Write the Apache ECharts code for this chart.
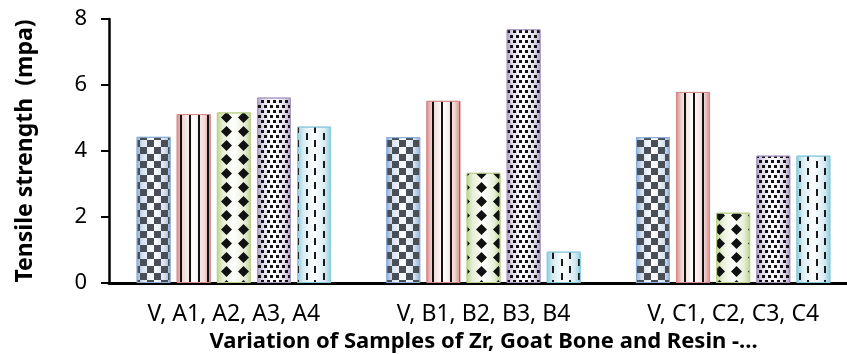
<!DOCTYPE html>
<html>
<head>
<meta charset="utf-8">
<script src="https://cdn.jsdelivr.net/npm/echarts@6/dist/echarts.min.js"></script>
<style>
	html, body { margin: 0; padding: 0; background: #fff; }
	#chart { width: 847px; height: 354px; }
</style>
</head>
<body>
<div id="chart"></div>
<script>
var categories = ['V, A1, A2, A3, A4', 'V, B1, B2, B3, B4', 'V, C1, C2, C3, C4'];
var seriesNames = ['V', 'Sample 1', 'Sample 2', 'Sample 3', 'Sample 4'];
var valuesV = [4.43, 4.42, 4.42];
var values1 = [5.12, 5.52, 5.79];
var values2 = [5.17, 3.34, 2.13];
var values3 = [5.62, 7.69, 3.86];
var values4 = [4.74, 0.95, 3.86];
var yTicks = { min: 0, max: 8, interval: 2 };

// excel-like shaded fill: tinted edges, pale centre
function shade(edge, mid) {
	return new echarts.graphic.LinearGradient(0, 0, 1, 0, [
		{ offset: 0, color: edge },
		{ offset: 0.18, color: mid },
		{ offset: 0.5, color: '#ffffff' },
		{ offset: 0.82, color: mid },
		{ offset: 1, color: edge }
	]);
}

var looks = [
	{ edge: '#8eafd6', mid: '#d6e2f1', decal: {
		symbol: 'rect', symbolSize: 1, color: '#4a4f57',
		dashArrayX: [[7, 7], [0, 7, 7, 0]], dashArrayY: [7, 0] } },
	{ edge: '#d78c8a', mid: '#f2d8d7', decal: {
		symbol: 'rect', symbolSize: 1, color: '#111111',
		dashArrayX: [1.5, 6.8], dashArrayY: [10, 0] } },
	{ edge: '#bcd290', mid: '#e7efd6', decal: {
		symbol: 'diamond', symbolSize: 1, color: '#111111',
		dashArrayX: [11, 6], dashArrayY: [11, 2.3] } },
	{ edge: '#ad9bc4', mid: '#e3dcea', decal: {
		symbol: 'rect', symbolSize: 1, color: '#111111',
		dashArrayX: [[3, 3], [0, 3, 3, 0]], dashArrayY: [3, 2] } },
	{ edge: '#8ccbdc', mid: '#d6ecf3', decal: {
		symbol: 'rect', symbolSize: 1, color: '#1a1a1a',
		dashArrayX: [[1.8, 14.2], [0, 8, 1.8, 6.2]], dashArrayY: [7, 0] } }
];
var allValues = [valuesV, values1, values2, values3, values4];

var series = allValues.map(function (vals, i) {
	return {
		name: seriesNames[i],
		type: 'bar',
		barWidth: 34,
		barGap: '18%',
		data: vals,
		itemStyle: {
			color: shade(looks[i].edge, looks[i].mid),
			borderColor: looks[i].edge,
			borderWidth: 1,
			decal: looks[i].decal
		}
	};
});

var myChart = echarts.init(document.getElementById('chart'), null, { renderer: 'canvas' });
var font = '"Noto Sans", "Open Sans", sans-serif';
var option = {
	animation: false,
	grid: {
		left: 109,
		right: -11,
		top: 19,
		bottom: 71,
		containLabel: false,
		outerBoundsMode: 'none'
	},
	xAxis: {
		type: 'category',
		data: categories,
		name: 'Variation of Samples of Zr, Goat Bone and Resin -...',
		nameLocation: 'middle',
		nameGap: 45,
		nameTextStyle: {
			fontFamily: font, fontWeight: 'bold', fontSize: 22, color: '#000'
		},
		axisLine: { lineStyle: { color: '#000', width: 3 } },
		axisTick: { show: false },
		axisLabel: { fontFamily: font, fontSize: 23, color: '#000', margin: 20 },
		splitLine: { show: false }
	},
	yAxis: {
		type: 'value',
		min: yTicks.min,
		max: yTicks.max,
		interval: yTicks.interval,
		name: 'Tensile strength  (mpa)',
		nameLocation: 'middle',
		nameGap: 72,
		nameTextStyle: { fontFamily: font, fontWeight: 'bold', fontSize: 23, color: '#000' },
		axisLine: { show: true, lineStyle: { color: '#000', width: 2.5 } },
		axisTick: { show: true, length: 8, lineStyle: { color: '#000', width: 2 } },
		axisLabel: { fontFamily: font, fontSize: 22, color: '#000', margin: 22 },
		splitLine: { show: false }
	},
	series: series
};
myChart.setOption(option);
</script>
</body>
</html>
